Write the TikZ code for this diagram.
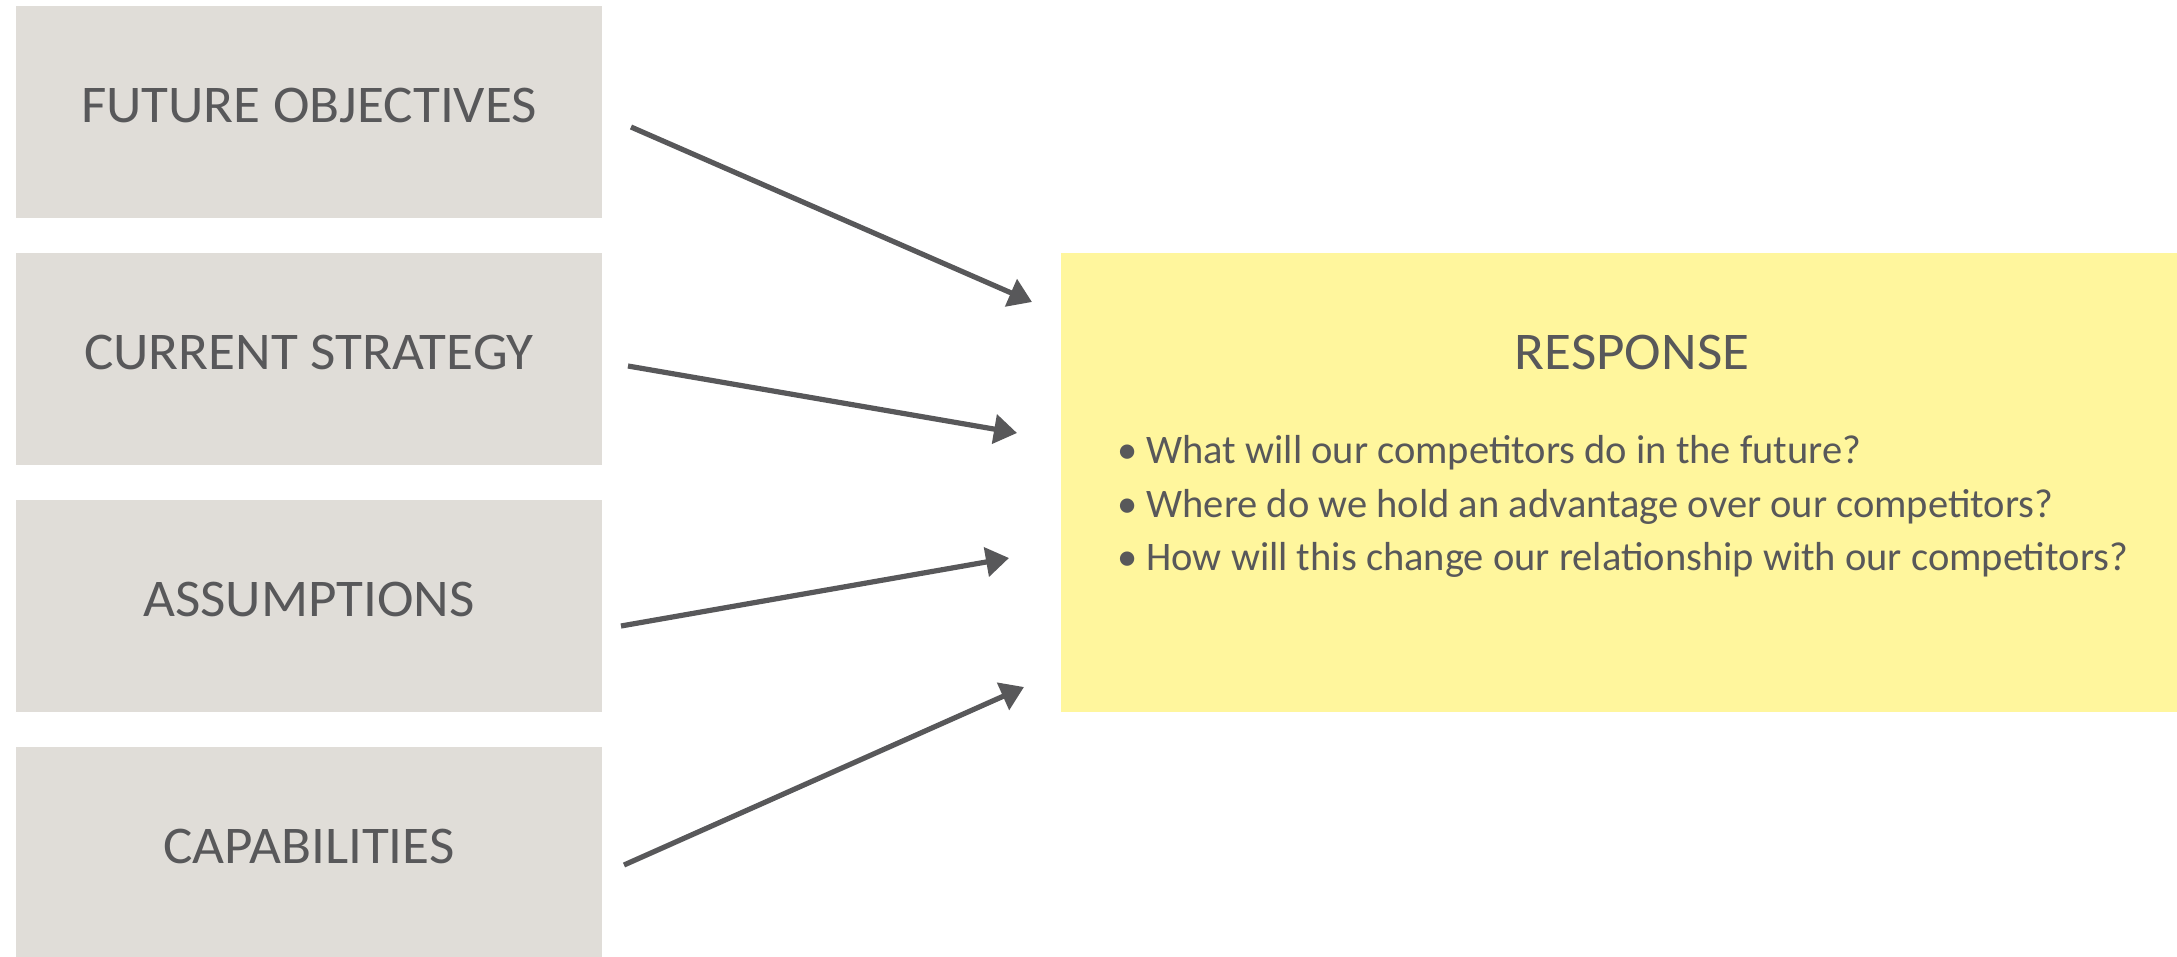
\documentclass[tikz,border=0pt]{standalone}
\usepackage{fontspec}
\setmainfont{Carlito}
\newfontfamily\labelfont{Carlito}[FakeStretch=1.04]
\usetikzlibrary{arrows.meta}
\definecolor{boxgray}{RGB}{224,221,216}
\definecolor{respyellow}{RGB}{255,246,157}
\definecolor{ink}{RGB}{88,88,90}
\tikzset{
  gbox/.style={rectangle, fill=boxgray, draw=none, minimum width=586pt, minimum height=212pt, inner sep=0pt, anchor=north west},
  ybox/.style={rectangle, fill=respyellow, draw=none, minimum width=1116pt, minimum height=459pt, inner sep=0pt, anchor=north west},
  lbl/.style={text=ink, font=\labelfont\fontsize{53}{60}\selectfont, inner sep=0pt, anchor=base},
  bullet/.style={text=ink, font=\fontsize{40.5}{48}\selectfont, inner sep=0pt, anchor=base west},
  link/.style={draw=ink, line width=5.2pt, -{Triangle[length=23pt,width=29pt]}}
}
\begin{document}
\begin{tikzpicture}[x=1pt,y=-1pt]
  \useasboundingbox (0,0) rectangle (2177,956);
  \begin{scope}
  \clip (0,0) rectangle (2177,956);
  % left column of inputs
  \node[gbox] (fo) at (16,6) {};
  \node[gbox] (cs) at (16,253) {};
  \node[gbox] (as) at (16,500) {};
  \node[gbox] (ca) at (16,747) {};
  \node[lbl] (fo-t) at (309,122) {FUTURE OBJECTIVES};
  \node[lbl] (cs-t) at (309,369) {CURRENT STRATEGY};
  \node[lbl] (as-t) at (309,616) {ASSUMPTIONS};
  \node[lbl] (ca-t) at (309,863) {CAPABILITIES};
  % response panel
  \node[ybox] (resp) at (1061,253) {};
  \node[lbl] (resp-t) at (1632,369) {RESPONSE};
  \node[bullet] (q1) at (1117,463) {• What will our competitors do in the future?};
  \node[bullet] (q2) at (1117,517) {• Where do we hold an advantage over our competitors?};
  \node[bullet] (q3) at (1117,570) {• How will this change our relationship with our competitors?};
  % arrow end points
  \coordinate (fo-out) at (631,127);
  \coordinate (cs-out) at (628,366);
  \coordinate (as-out) at (621,626);
  \coordinate (ca-out) at (624,865);
  \coordinate (r-in1) at (1032,302);
  \coordinate (r-in2) at (1017,433);
  \coordinate (r-in3) at (1009,558);
  \coordinate (r-in4) at (1024,687);
  \draw[link] (fo-out) -- (r-in1);
  \draw[link] (cs-out) -- (r-in2);
  \draw[link] (as-out) -- (r-in3);
  \draw[link] (ca-out) -- (r-in4);
  \end{scope}
\end{tikzpicture}
\end{document}
